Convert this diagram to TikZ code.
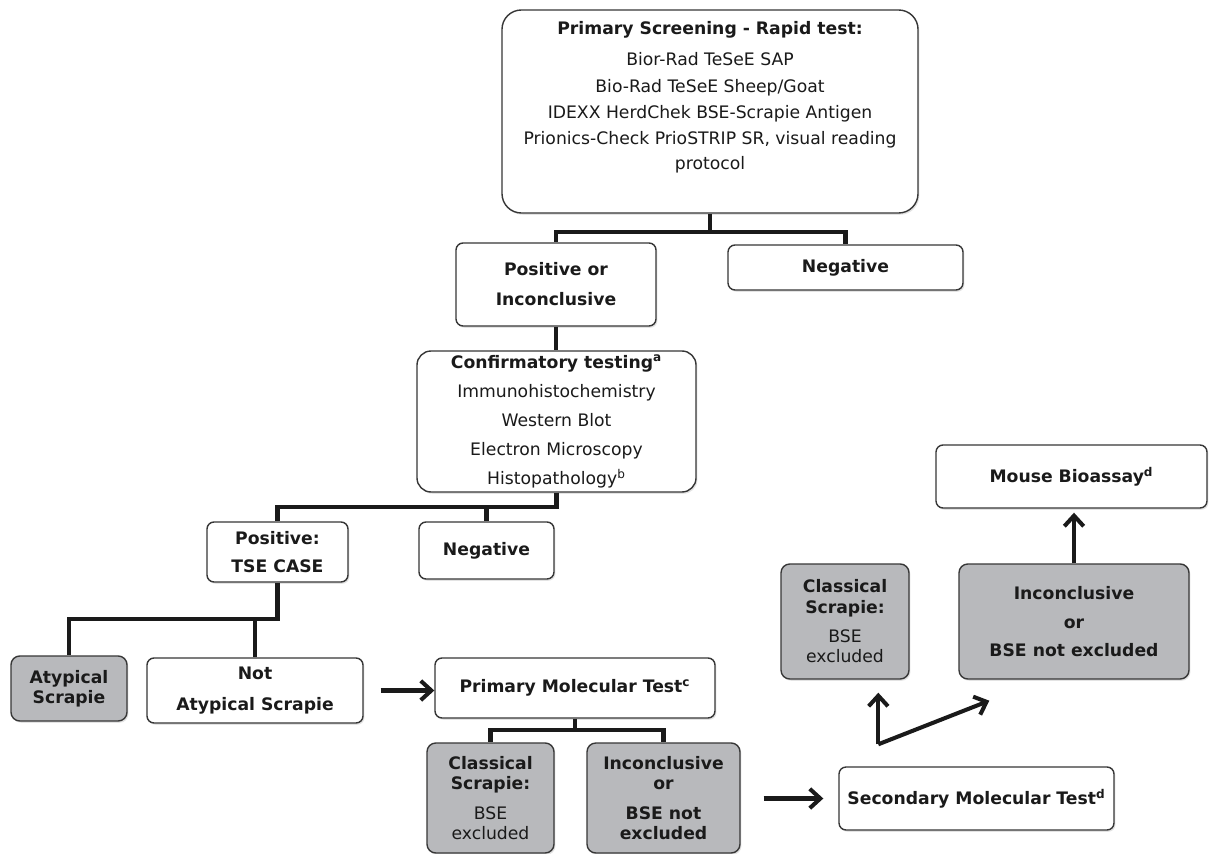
\documentclass[tikz,border=0pt]{standalone}
\usepackage{fontspec}
\setmainfont{DejaVu Sans}
\usepackage{tikz}
\usetikzlibrary{arrows.meta,calc,positioning,shadows}

\newlength{\pxl}
\setlength{\pxl}{0.02cm}
\newcommand{\rg}{\mdseries}
\definecolor{boxline}{RGB}{55,55,55}
\definecolor{boxgray}{RGB}{184,185,188}
\definecolor{ink}{RGB}{26,26,26}

\tikzset{
  box/.style={draw=boxline, line width=0.8pt, rounded corners=4pt, fill=white,
    inner sep=0pt, align=center, text=ink,
    font=\fontsize{9.8pt}{11.6pt}\selectfont\bfseries,
    drop shadow={shadow xshift=0.8pt, shadow yshift=-1pt, opacity=0.22}},
  greybox/.style={box, fill=boxgray, rounded corners=5pt},
  link/.style={line width=2.3pt, draw=ink},
  arr/.style={line width=2.3pt, draw=ink, -{Straight Barb[length=6pt,width=11pt]}},
}

\begin{document}
\begin{tikzpicture}[x=0.02cm, y=-0.02cm]
  \path[use as bounding box, fill=white] (0,0) rectangle (1209,854);

  \node[box, rounded corners=11pt, minimum width=416\pxl, minimum height=203\pxl] (screen) at (710,111.5)
    {Primary Screening - Rapid test:\\[6pt]\rg Bior-Rad TeSeE SAP\\[3.4pt]\rg Bio-Rad TeSeE Sheep/Goat\\[3.4pt]\rg IDEXX HerdChek BSE-Scrapie Antigen\\[3.4pt]\rg Prionics-Check PrioSTRIP SR, visual reading\\[2.5pt]\rg protocol\\[6.5pt]\mbox{}};
  \node[box, minimum width=200\pxl, minimum height=83\pxl] (posinc) at (556,284.5) {Positive or\\[5.4pt]Inconclusive};
  \node[box, minimum width=235\pxl, minimum height=45\pxl] (neg1) at (845.5,267.5) {Negative};
  \node[box, rounded corners=8pt, minimum width=279\pxl, minimum height=141\pxl] (confirm) at (556.5,421.5)
    {Confirmatory testing\textsuperscript{a}\\[5.4pt]\rg Immunohistochemistry\\[4.8pt]\rg Western Blot\\[4.8pt]\rg Electron Microscopy\\[4.8pt]\rg Histopathology\textsuperscript{b}};
  \node[box, minimum width=141\pxl, minimum height=60\pxl] (tse) at (277.5,552) {Positive:\\[4.8pt]TSE CASE};
  \node[box, minimum width=135\pxl, minimum height=57\pxl] (neg2) at (486.5,550.5) {Negative};
  \node[greybox, minimum width=116\pxl, minimum height=65\pxl] (atyp) at (69,688.5) {Atypical\\Scrapie};
  \node[box, minimum width=216\pxl, minimum height=65\pxl] (notatyp) at (255,690.5) {Not\\[6pt]Atypical Scrapie};
  \node[box, minimum width=280\pxl, minimum height=60\pxl] (pmt) at (575,688) {Primary Molecular Test\textsuperscript{c}};
  \node[greybox, minimum width=127\pxl, minimum height=110\pxl] (clsL) at (490.5,798) {Classical\\Scrapie:\\[5.4pt]\rg BSE\\\rg excluded};
  \node[greybox, minimum width=153\pxl, minimum height=110\pxl] (incL) at (663.5,798) {Inconclusive\\or\\[5.4pt]BSE not\\excluded};
  \node[box, minimum width=275\pxl, minimum height=63\pxl] (second) at (976.5,798.5) {Secondary Molecular Test\textsuperscript{d}};
  \node[greybox, minimum width=128\pxl, minimum height=115\pxl] (clsR) at (845,621.5) {Classical\\Scrapie:\\[5pt]\rg BSE\\\rg excluded};
  \node[greybox, minimum width=230\pxl, minimum height=115\pxl] (incR) at (1074,621.5) {Inconclusive\\[4.8pt]or\\[4.3pt]BSE not excluded};
  \node[box, minimum width=271\pxl, minimum height=63\pxl] (mouse) at (1071.5,476.5) {Mouse Bioassay\textsuperscript{d}};

  \draw[link] (screen.south) -- ++(0,18) coordinate (j1) -| (posinc.north);
  \draw[link] (j1) -| (neg1.north);
  \draw[link] (posinc.south) -- (posinc.south |- confirm.north);
  \draw[link] (confirm.south) -- ++(0,14) coordinate (j2) -| (tse.north);
  \draw[link] (j2) -| (neg2.north);
  \draw[link] (tse.south) -- ++(0,36) coordinate (j3) -| (atyp.north);
  \draw[link] (j3) -| (notatyp.north);
  \draw[link] (pmt.south) -- ++(0,11) coordinate (j4) -| (clsL.north);
  \draw[link] (j4) -| (incL.north);

  \draw[arr, shorten <=17\pxl] (notatyp.east) -- (notatyp.east -| pmt.west);
  \draw[arr, shorten <=23\pxl, shorten >=15\pxl] (incL.east |- second.west) -- (second.west);
  \coordinate (fork) at ($(second.north west)+(40,-22)$);
  \draw[arr, shorten >=13\pxl] (fork) -- (fork |- clsR.south);
  \draw[arr] (fork) -- ($(incR.south west)+(31,21)$);
  \draw[arr, shorten >=4\pxl] (incR.north) -- (incR.north |- mouse.south);
\end{tikzpicture}
\end{document}
